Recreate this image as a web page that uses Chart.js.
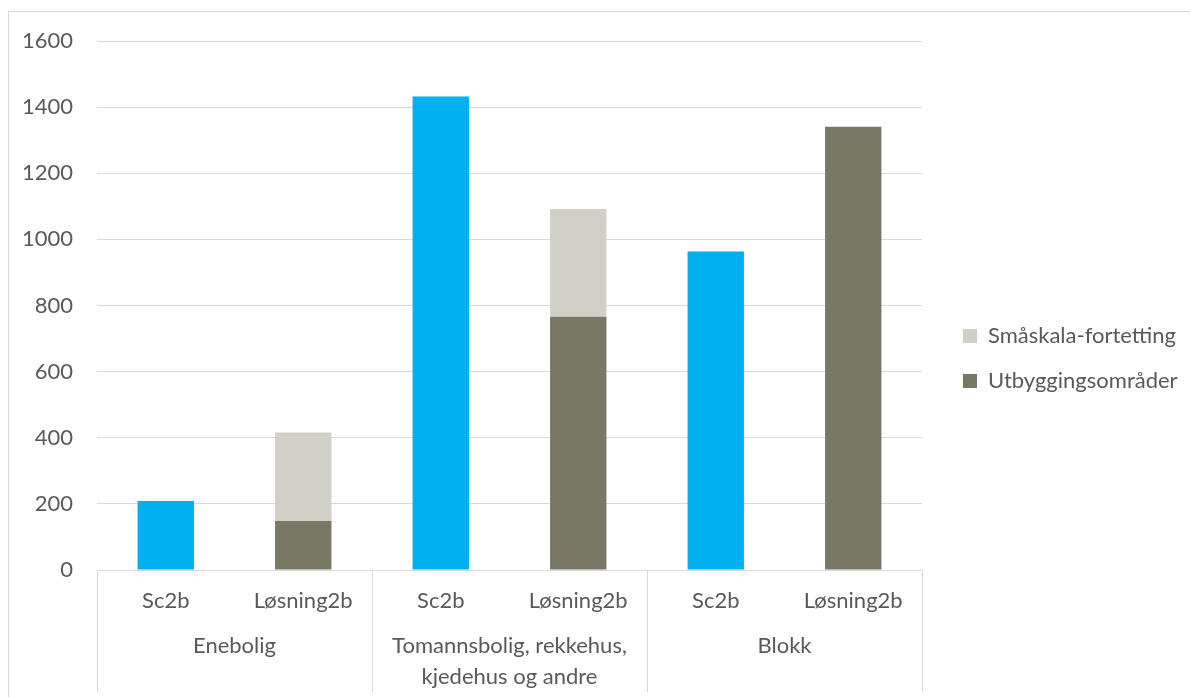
<!DOCTYPE html>
<html>
<head>
<meta charset="utf-8">
<script src="https://cdn.jsdelivr.net/npm/chart.js@4.4.1/dist/chart.umd.min.js"></script>
<style>
  html, body { margin: 0; padding: 0; background: #ffffff; }
  #wrap { position: relative; width: 1190px; height: 697px; }
</style>
</head>
<body>
<div id="wrap"><canvas id="c" width="1190" height="697"></canvas></div>
<script>
// ---- data ----
const subLabels = ['Sc2b', 'Løsning2b', 'Sc2b', 'Løsning2b', 'Sc2b', 'Løsning2b'];
const groupLabels = [['Enebolig'], ['Tomannsbolig, rekkehus,', 'kjedehus og andre'], ['Blokk']];
const sc2bValues = [209, null, 1432, null, 963, null];
const utbyggingValues = [null, 148, null, 766, null, 1341];
const smaskalaValues = [null, 268, null, 326, null, 0];
const yTicks = [0, 200, 400, 600, 800, 1000, 1200, 1400, 1600];

const FONT = 'Lato, "Open Sans", sans-serif';
const FS = 22;
const TEXT = '#595959';
const GRID = '#d9d9d9';

const decorPlugin = {
  id: 'decor',
  beforeLayout(chart) {
    const lg = chart.legend;
    if (lg && !lg._patched) {
      const f = lg.fit;
      lg.fit = function () { f.call(this); this.width = 268; };
      lg._patched = true;
    }
  },
  afterLayout(chart) {
    const lg = chart.legend;
    if (lg) {
      const pad = lg.options.labels.padding;
      lg.left = 963 - pad;
      lg.top = 20;
      lg.bottom = 697;
      lg.height = lg.bottom - lg.top;
    }
  },
  beforeDraw(chart) {
    const ctx = chart.ctx;
    ctx.save();
    ctx.strokeStyle = GRID;
    ctx.lineWidth = 1;
    ctx.strokeRect(8.5, 11.5, 1300, 800);
    ctx.restore();
  },
  afterDraw(chart) {
    const ctx = chart.ctx;
    const x = chart.scales.x;
    const area = chart.chartArea;
    ctx.save();
    ctx.strokeStyle = GRID;
    ctx.lineWidth = 1;
    const bounds = [area.left];
    for (let g = 1; g < groupLabels.length; g++) {
      bounds.push((x.getPixelForValue(2 * g - 1) + x.getPixelForValue(2 * g)) / 2);
    }
    bounds.push(area.right);
    bounds.forEach(b => {
      const bx = Math.round(b) + 0.5;
      ctx.beginPath();
      ctx.moveTo(bx, area.bottom);
      ctx.lineTo(bx, 692);
      ctx.stroke();
    });
    ctx.fillStyle = TEXT;
    ctx.font = FS + 'px ' + FONT;
    ctx.textAlign = 'center';
    ctx.textBaseline = 'middle';
    groupLabels.forEach((lines, g) => {
      const cx = (x.getPixelForValue(2 * g) + x.getPixelForValue(2 * g + 1)) / 2;
      lines.forEach((ln, i) => {
        ctx.fillText(ln, cx, 646 + i * 31);
      });
    });
    ctx.restore();
  }
};

new Chart(document.getElementById('c'), {
  type: 'bar',
  data: {
    labels: subLabels,
    datasets: [
      { label: 'Sc2b', data: sc2bValues, backgroundColor: '#00b0f0', borderWidth: 0 },
      { label: 'Utbyggingsområder', data: utbyggingValues, backgroundColor: '#787865', borderWidth: 0 },
      { label: 'Småskala-fortetting', data: smaskalaValues, backgroundColor: '#d0d0c6', borderWidth: 0 }
    ]
  },
  options: {
    responsive: false,
    animation: false,
    devicePixelRatio: 1,
    layout: { padding: { top: 41, left: 0, right: 0, bottom: 0 } },
    datasets: { bar: { categoryPercentage: 1.0, barPercentage: 0.41 } },
    plugins: {
      tooltip: { enabled: false },
      legend: {
        position: 'right',
        reverse: true,
        labels: {
          filter: (item) => item.text !== 'Sc2b',
          boxWidth: 14,
          boxHeight: 14,
          padding: 23,
          color: TEXT,
          font: { family: FONT, size: FS }
        }
      }
    },
    scales: {
      x: {
        stacked: true,
        grid: { display: false, drawTicks: false },
        border: { display: true, color: GRID, width: 1 },
        ticks: { color: TEXT, font: { family: FONT, size: FS }, padding: 18, maxRotation: 0, autoSkip: false },
        afterFit(scale) { scale.height = 127; }
      },
      y: {
        stacked: true,
        min: 0,
        max: 1600,
        afterBuildTicks(scale) { scale.ticks = yTicks.map(v => ({ value: v })); },
        grid: { color: GRID, lineWidth: 1, drawTicks: false },
        border: { display: false },
        ticks: { color: TEXT, font: { family: FONT, size: FS }, padding: 24, callback: (v) => String(v) },
        afterFit(scale) { scale.width = 97; }
      }
    }
  },
  plugins: [decorPlugin]
});
</script>
</body>
</html>
